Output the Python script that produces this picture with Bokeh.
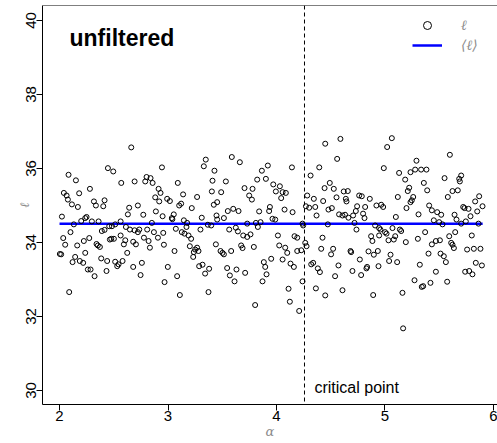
from bokeh.plotting import figure
from bokeh.models import Range1d, FixedTicker, Span, Label, Legend, LegendItem
from bokeh.embed import file_html
from bokeh.resources import INLINE

# ---- data ----
alpha = [
    2.446,2.083,2.151,2.280,2.040,2.181,2.065,2.077,2.317,2.415,2.114,2.335,2.403,2.169,2.022,2.249,
    2.237,2.200,2.298,2.360,2.132,2.415,2.390,2.458,2.101,2.034,2.274,2.224,2.464,2.052,2.163,2.341,
    2.353,2.372,2.003,2.015,2.237,2.144,2.384,2.187,2.218,2.120,2.439,2.261,2.286,2.433,2.323,2.089,
    2.495,2.944,2.569,2.692,2.802,2.839,2.790,2.858,2.913,2.931,2.882,2.919,2.722,2.642,2.772,2.630,
    2.888,2.950,2.563,2.513,2.483,2.612,2.649,2.692,2.735,2.722,2.808,2.851,2.870,2.956,2.563,2.606,
    2.477,2.501,2.778,2.679,2.821,2.907,2.593,2.704,2.833,2.962,2.624,2.513,2.581,2.544,2.532,2.759,
    2.679,2.747,2.968,2.661,
    3.348,3.330,3.428,3.090,3.410,3.404,3.139,3.268,2.992,3.017,3.103,3.121,3.219,3.422,3.453,3.053,
    3.035,3.040,3.146,3.176,3.311,3.447,3.453,3.367,3.398,3.170,3.072,3.299,3.127,3.152,3.189,3.213,
    3.201,3.268,3.250,3.281,3.238,3.232,3.441,3.060,2.998,3.287,3.318,3.379,3.342,3.084,3.109,3.373,
    3.588,3.662,3.920,3.865,3.533,3.822,3.902,3.705,3.779,3.490,3.748,3.773,3.939,3.932,3.551,3.601,
    3.650,3.840,3.515,3.730,3.810,3.853,3.828,3.564,3.625,3.644,3.693,3.730,3.760,3.674,3.687,3.791,
    3.582,3.484,3.502,3.515,3.883,3.951,3.896,3.545,3.631,3.570,3.613,3.711,3.908,3.871,3.803,
    4.449,4.142,4.394,4.314,3.970,4.031,3.994,4.056,4.086,4.043,4.283,4.344,4.430,4.271,4.301,4.357,
    4.074,4.148,4.369,4.443,3.963,3.988,4.240,4.246,4.013,4.166,4.191,4.265,4.424,4.025,4.080,4.277,
    4.099,4.191,4.228,4.412,4.056,4.129,4.160,4.320,4.338,4.381,4.400,4.240,4.449,4.111,4.363,4.123,
    4.209,
    4.589,4.559,4.491,4.528,4.620,4.657,4.553,4.639,4.645,4.762,4.786,4.860,4.921,4.479,4.510,4.743,
    4.731,4.817,4.577,4.608,4.632,4.663,4.706,4.798,4.811,4.473,4.719,4.737,4.909,4.946,4.872,4.884,
    4.946,4.522,4.503,4.682,4.688,4.848,4.897,4.934,4.768,4.571,4.540,4.700,4.835,4.829,4.780,4.940,
    4.608,4.891,
    5.063,5.020,4.989,5.290,5.130,5.186,5.235,5.278,5.333,5.382,5.358,5.389,5.223,5.210,5.260,5.247,
    5.235,5.118,4.965,4.983,5.198,5.407,5.432,5.309,5.100,5.450,4.958,5.001,5.014,5.069,5.137,5.149,
    5.094,5.081,5.032,5.192,5.303,5.370,5.432,5.051,5.038,5.112,5.321,5.401,5.272,5.339,5.352,5.419,
    5.161,5.167,
    5.598,5.549,5.684,5.702,5.690,5.671,5.622,5.579,5.868,5.831,5.899,5.721,5.733,5.770,5.850,5.788,
    5.641,5.659,5.481,5.518,5.499,5.530,5.702,5.745,5.862,5.647,5.592,5.800,5.610,5.622,5.635,5.469,
    5.506,5.757,5.819,5.880,5.512,5.542,5.561,5.837,5.893,5.469,5.739,5.776,5.806,5.573,
]
ell = [
    36.01,35.83,35.68,35.45,35.34,35.33,35.27,35.16,35.11,35.14,35.03,35.00,34.98,34.96,34.70,34.69,
    34.66,34.58,34.57,34.57,34.49,34.34,34.31,34.44,34.28,34.12,34.12,34.04,34.08,33.94,33.92,33.96,
    33.92,33.88,33.69,33.68,33.72,33.61,33.57,33.50,33.45,33.47,33.50,33.27,33.27,33.23,33.09,32.66,
    35.92,36.03,35.61,35.65,35.77,35.74,35.65,35.61,35.45,35.34,35.22,35.11,35.00,34.94,34.75,34.76,
    34.84,34.71,34.57,34.49,34.44,34.42,34.35,34.33,34.35,34.28,34.35,34.53,34.28,34.26,34.19,34.06,
    34.10,34.10,34.13,34.02,34.04,34.13,33.95,33.95,33.86,33.94,33.72,33.48,33.50,33.41,33.36,33.45,
    33.34,33.12,32.93,36.57,
    36.24,36.06,35.94,35.61,35.67,35.38,35.30,35.23,35.18,35.12,35.00,35.05,34.93,35.02,35.09,34.76,
    34.66,34.63,34.60,34.53,34.67,34.73,34.62,34.48,34.46,34.42,34.37,34.35,34.28,34.24,34.19,34.10,
    33.90,33.86,33.81,33.77,33.74,33.61,33.95,33.77,33.34,33.36,33.40,33.29,33.16,33.09,32.58,32.66,
    36.31,36.17,36.08,35.94,35.65,35.70,35.72,35.47,35.45,35.36,35.27,35.16,34.96,34.85,34.85,34.91,
    34.85,34.84,34.66,34.51,34.53,34.55,34.42,34.35,34.40,34.30,34.19,34.15,34.22,33.92,33.85,33.88,
    33.77,33.77,33.72,33.68,33.47,33.56,33.34,33.31,33.27,33.11,32.95,33.18,33.14,32.95,32.31,
    36.67,36.03,36.03,35.81,35.57,35.52,35.38,35.36,35.34,35.20,35.27,35.18,35.12,34.98,34.94,34.96,
    34.89,34.82,34.73,35.47,34.64,34.62,34.51,34.46,34.19,34.17,34.13,33.99,34.13,33.92,33.86,33.90,
    33.72,33.77,33.79,33.83,33.54,33.43,33.34,33.41,33.45,33.30,33.20,32.95,32.57,32.75,32.76,32.40,
    32.15,
    36.80,36.26,35.61,35.45,35.38,35.39,35.22,35.18,35.11,35.27,35.25,35.18,35.00,34.89,34.93,34.98,
    34.85,34.96,34.76,34.73,34.75,34.67,34.73,34.78,34.66,34.49,34.53,34.35,34.46,34.39,34.17,34.04,
    34.19,33.83,33.68,33.77,33.74,33.76,33.67,33.77,33.54,33.38,33.09,33.23,33.34,33.30,33.12,33.36,
    32.71,32.58,
    36.82,36.58,36.01,36.21,35.88,35.70,35.90,35.97,35.97,35.97,35.61,35.41,35.48,35.39,35.23,35.14,
    35.09,35.23,35.02,34.96,34.93,35.00,34.87,34.76,34.69,34.60,34.35,34.28,34.24,34.39,34.35,34.31,
    34.17,34.08,34.06,34.01,34.10,34.28,33.95,33.67,33.50,33.47,33.40,33.70,32.98,32.80,32.82,32.91,
    32.64,31.68,
    36.37,35.74,35.72,35.81,35.65,35.41,35.39,35.23,35.25,35.11,34.98,34.96,34.93,34.91,34.84,34.71,
    34.75,34.62,34.82,34.75,34.55,34.49,34.51,34.57,34.51,34.28,34.17,34.19,33.99,33.94,33.85,34.04,
    34.06,33.81,33.83,33.83,33.70,33.63,33.47,33.45,33.38,33.21,33.21,33.23,33.14,32.94,
]
mean_x = [2.0, 5.9]
mean_ell = [34.51, 34.51]
critical_alpha = 4.258
x_ticks = [2, 3, 4, 5, 6]
y_ticks = [30, 32, 34, 36, 38, 40]

X0, X1 = 1.843, 6.037
Y0, Y1 = 29.622, 40.405

p = figure(width=497, height=443, output_backend="svg", toolbar_location=None,
           x_range=Range1d(X0, X1), y_range=Range1d(Y0, Y1),
           min_border_left=42, min_border_right=0, min_border_top=5, min_border_bottom=39)
p.grid.visible = False
p.outline_line_color = None
p.background_fill_color = "white"
p.border_fill_color = "white"

for ax in (p.xaxis[0], p.yaxis[0]):
    ax.axis_line_color = "black"
    ax.axis_line_width = 1
    ax.major_tick_out = 6
    ax.major_tick_in = 0
    ax.minor_tick_line_color = None
    ax.major_tick_line_color = "black"
    ax.major_label_text_font = "Liberation Sans"
    ax.major_label_text_font_size = "15px"
    ax.major_label_text_color = "black"
    ax.axis_label_text_font = "DejaVu Serif"
    ax.axis_label_text_font_style = "italic"
    ax.axis_label_text_color = "#8c8c8c"
    ax.axis_label_text_font_size = "13px"

p.xaxis.major_label_standoff = 0
p.yaxis.major_label_standoff = 0
p.xaxis.axis_label = "α"
p.yaxis.axis_label = "ℓ"
p.xaxis.axis_label_standoff = 0
p.yaxis.axis_label_standoff = -8
p.xaxis.ticker = FixedTicker(ticks=x_ticks)
p.yaxis.ticker = FixedTicker(ticks=y_ticks)
p.yaxis.major_label_orientation = "parallel"

p.add_layout(Span(location=Y1, dimension="width", line_color="black", line_width=1))
p.add_layout(Span(location=critical_alpha, dimension="height", line_color="black",
                  line_width=1, line_dash="4 3"))

mline = p.line(mean_x, mean_ell, line_color="#0000ff", line_width=2.5)
pts = p.scatter(alpha, ell, marker="circle", size=5, fill_color=None,
                line_color="black", line_width=1)

p.add_layout(Label(x=2.092, y=39.52, text="unfiltered", text_font="Liberation Sans",
                   text_color="black", text_font_style="bold", text_font_size="23px",
                   text_baseline="alphabetic"))
p.add_layout(Label(x=4.35, y=30.07, text="critical point", text_font="Liberation Sans",
                   text_color="black", text_font_size="16px", text_baseline="alphabetic"))

legend = Legend(items=[LegendItem(label="ℓ", renderers=[pts]),
                       LegendItem(label="⟨ℓ⟩", renderers=[mline])],
                location=(370, 349), border_line_color=None, background_fill_alpha=0,
                padding=0, margin=0, spacing=0, glyph_width=30, glyph_height=20,
                label_height=20, label_standoff=19, label_text_color="#8c8c8c",
                label_text_font="DejaVu Serif", label_text_font_style="italic",
                label_text_font_size="14px")
p.add_layout(legend)

open("out.html", "w").write(file_html(p, INLINE))
